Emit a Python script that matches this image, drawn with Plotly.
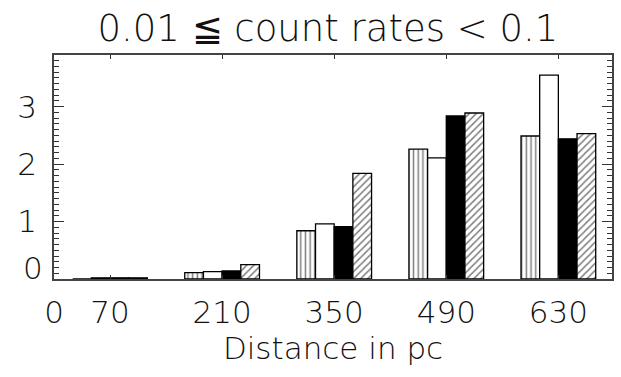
import plotly.graph_objects as go

distances = [70, 210, 350, 490, 630]
x_tick_vals = [0, 70, 210, 350, 490, 630]
x_tick_text = ["0", "70", "210", "350", "490", "630"]
y_tick_vals = [1, 2, 3]
y_tick_text = ["1", "2", "3"]

vertical_hatch = [0.0, 0.11, 0.84, 2.26, 2.49]
open_bars = [0.02, 0.13, 0.96, 2.11, 3.55]
solid_bars = [0.02, 0.14, 0.91, 2.84, 2.44]
diag_hatch = [0.02, 0.25, 1.84, 2.89, 2.53]

FONT = "DejaVu Sans"
W = 200
TXT = "#111"

fig = go.Figure()
series = [
    (vertical_hatch, "white", "|", 4.7, 0.32),
    (open_bars, "white", "", 8, 0.2),
    (solid_bars, "black", "", 8, 0.2),
    (diag_hatch, "white", "/", 5, 0.3),
]
for vals, col, shape, size, sol in series:
    fig.add_trace(go.Bar(
        x=distances, y=vals,
        marker=dict(color=col, line=dict(color="black", width=1.3),
                    pattern=dict(shape=shape, fgcolor="black", bgcolor="white",
                                 size=size, solidity=sol, fillmode="overlay")),
        showlegend=False,
    ))

fig.update_layout(
    width=621, height=377,
    margin=dict(l=54, r=7, t=55, b=98),
    paper_bgcolor="white", plot_bgcolor="white",
    barmode="group", bargap=1/3, bargroupgap=0,
    title=dict(text="0.01 ≦ count rates < 0.1", x=0.528, xanchor="center",
               y=0.925, yanchor="middle",
               font=dict(family=FONT, size=37, color=TXT, weight=W)),
    font=dict(family=FONT, color=TXT),
)
fig.update_xaxes(
    range=[0, 697], tickmode="array", tickvals=x_tick_vals, ticktext=x_tick_text,
    ticks="inside", ticklen=4, tickwidth=1.2, tickcolor="#333",
    showline=True, linecolor="#444", linewidth=1.5, mirror="ticks",
    showgrid=False, zeroline=False,
    tickfont=dict(family=FONT, size=31, color=TXT, weight=W),
    ticklabelstandoff=5,
    title=dict(text="Distance in pc", standoff=4,
               font=dict(family=FONT, size=31, color=TXT, weight=W)),
)
fig.update_yaxes(
    range=[0, 3.9], tickmode="array", tickvals=y_tick_vals, ticktext=y_tick_text,
    ticks="inside", ticklen=10, tickwidth=1.2, tickcolor="#333",
    minor=dict(tickmode="linear", tick0=0, dtick=0.1, ticks="inside", ticklen=5,
               tickwidth=1.2, tickcolor="#333", showgrid=False),
    showline=True, linecolor="#444", linewidth=1.5, mirror="ticks",
    showgrid=False, zeroline=False,
    tickfont=dict(family=FONT, size=31, color=TXT, weight=W),
    ticklabelstandoff=9,
)
fig.add_annotation(x=0, xref="paper", y=0, yref="y", text="0", showarrow=False,
                   xanchor="right", yanchor="middle", xshift=-9, yshift=11,
                   font=dict(family=FONT, size=31, color=TXT, weight=W))

fig.write_html("out.html")
